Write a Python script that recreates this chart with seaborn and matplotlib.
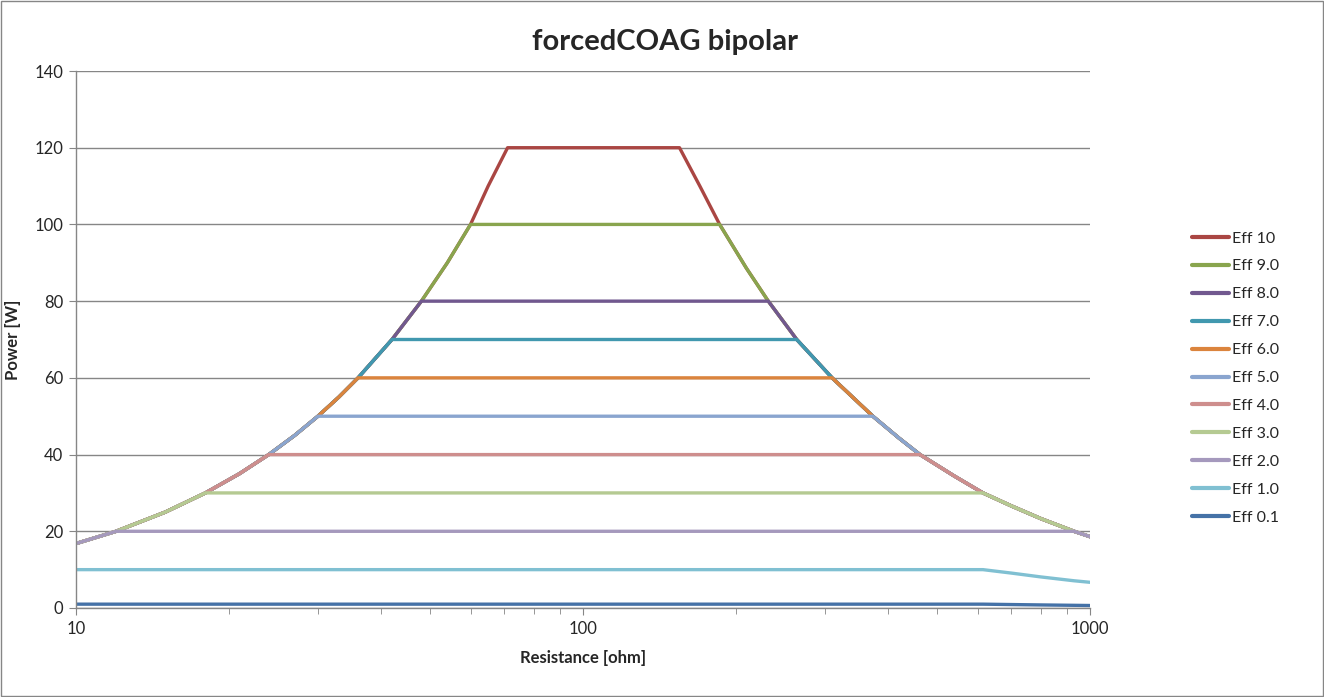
"""forcedCOAG bipolar power curves (Excel-style chart)."""
import matplotlib
matplotlib.use("Agg")
import matplotlib.pyplot as plt
import matplotlib.ticker as mticker
import pandas as pd
import seaborn as sns

# resistance grid [ohm]
resistance = [10, 12, 15, 18, 21, 24, 27, 30, 33, 36, 42, 48, 54, 60, 65, 71,
              155, 170, 186, 210, 232, 264, 310, 373, 420, 462, 540, 615, 700, 800, 930, 1000]

# power [W] per setting
eff_10 = [16.8, 20, 25, 30, 35, 40, 45, 50, 55, 60, 70, 80, 90, 100, 110, 120,
          120, 110, 100, 88.6, 80, 70, 60, 50, 44.3, 40, 34.4, 30, 26.6, 23.3, 20, 18.6]
eff_9 = [16.8, 20, 25, 30, 35, 40, 45, 50, 55, 60, 70, 80, 90, 100, 100, 100,
         100, 100, 100, 88.6, 80, 70, 60, 50, 44.3, 40, 34.4, 30, 26.6, 23.3, 20, 18.6]
eff_8 = [16.8, 20, 25, 30, 35, 40, 45, 50, 55, 60, 70, 80, 80, 80, 80, 80,
         80, 80, 80, 80, 80, 70, 60, 50, 44.3, 40, 34.4, 30, 26.6, 23.3, 20, 18.6]
eff_7 = [16.8, 20, 25, 30, 35, 40, 45, 50, 55, 60, 70, 70, 70, 70, 70, 70,
         70, 70, 70, 70, 70, 70, 60, 50, 44.3, 40, 34.4, 30, 26.6, 23.3, 20, 18.6]
eff_6 = [16.8, 20, 25, 30, 35, 40, 45, 50, 55, 60, 60, 60, 60, 60, 60, 60,
         60, 60, 60, 60, 60, 60, 60, 50, 44.3, 40, 34.4, 30, 26.6, 23.3, 20, 18.6]
eff_5 = [16.8, 20, 25, 30, 35, 40, 45, 50, 50, 50, 50, 50, 50, 50, 50, 50,
         50, 50, 50, 50, 50, 50, 50, 50, 44.3, 40, 34.4, 30, 26.6, 23.3, 20, 18.6]
eff_4 = [16.8, 20, 25, 30, 35, 40, 40, 40, 40, 40, 40, 40, 40, 40, 40, 40,
         40, 40, 40, 40, 40, 40, 40, 40, 40, 40, 34.4, 30, 26.6, 23.3, 20, 18.6]
eff_3 = [16.8, 20, 25, 30, 30, 30, 30, 30, 30, 30, 30, 30, 30, 30, 30, 30,
         30, 30, 30, 30, 30, 30, 30, 30, 30, 30, 30, 30, 26.6, 23.3, 20, 18.6]
eff_2 = [16.8, 20, 20, 20, 20, 20, 20, 20, 20, 20, 20, 20, 20, 20, 20, 20,
         20, 20, 20, 20, 20, 20, 20, 20, 20, 20, 20, 20, 20, 20, 20, 18.6]
eff_1 = [10, 10, 10, 10, 10, 10, 10, 10, 10, 10, 10, 10, 10, 10, 10, 10,
         10, 10, 10, 10, 10, 10, 10, 10, 10, 10, 10, 10, 9.1, 8.1, 7.1, 6.7]
eff_01 = [1.0, 1.0, 1.0, 1.0, 1.0, 1.0, 1.0, 1.0, 1.0, 1.0, 1.0, 1.0, 1.0, 1.0, 1.0, 1.0,
          1.0, 1.0, 1.0, 1.0, 1.0, 1.0, 1.0, 1.0, 1.0, 1.0, 1.0, 1.0, 0.9, 0.8, 0.7, 0.65]

labels = ["Eff 10", "Eff 9.0", "Eff 8.0", "Eff 7.0", "Eff 6.0", "Eff 5.0",
          "Eff 4.0", "Eff 3.0", "Eff 2.0", "Eff 1.0", "Eff 0.1"]
series = [eff_10, eff_9, eff_8, eff_7, eff_6, eff_5, eff_4, eff_3, eff_2, eff_1, eff_01]
colors = ["#AA4643", "#89A54E", "#71588F", "#4198AF", "#DB843D", "#8AA5CF",
          "#CE8E8D", "#B5CA92", "#A599BD", "#80C0D2", "#4572A7"]

rows = []
for lab, vals in zip(labels, series):
    for r, p in zip(resistance, vals):
        rows.append({"Resistance": r, "Power": p, "Setting": lab})
df = pd.DataFrame(rows)

sns.set_style("white")
plt.rcParams["font.family"] = ["Lato", "DejaVu Sans"]

fig = plt.figure(figsize=(13.24, 6.97), dpi=100)
ax = fig.add_axes([76 / 1324, 1 - 608 / 697, (1090 - 76) / 1324, (608 - 71) / 697])

sns.lineplot(data=df, x="Resistance", y="Power", hue="Setting", hue_order=labels,
             palette=colors, linewidth=2.4, ax=ax, sort=False, estimator=None)

ax.set_xscale("log")
ax.set_xlim(10, 1000)
ax.set_ylim(0, 140)
ax.set_yticks(range(0, 141, 20))
ax.xaxis.set_major_formatter(mticker.FuncFormatter(lambda v, _: f"{v:g}"))
ax.xaxis.set_minor_formatter(mticker.NullFormatter())
ax.yaxis.grid(True, color="#868686", linewidth=1.0)
ax.xaxis.grid(False)
ax.set_axisbelow(True)
for s in ("top", "right"):
    ax.spines[s].set_visible(False)
for s in ("left", "bottom"):
    ax.spines[s].set_color("#868686")
    ax.spines[s].set_linewidth(1.0)
ax.tick_params(axis="both", which="major", direction="out", length=5, color="#868686",
               labelsize=12, pad=4, bottom=True, left=True)
ax.tick_params(axis="x", which="minor", direction="out", length=4, color="#868686", bottom=True)

ax.set_xlabel("Resistance [ohm]", fontsize=12, fontweight="bold", labelpad=10)
ax.set_ylabel("Power [W]", fontsize=12, fontweight="bold", labelpad=10)
fig.suptitle("forcedCOAG bipolar", fontsize=21, fontweight="bold", x=665 / 1324, y=1 - 42 / 697,
             va="center")

handles, labs = ax.get_legend_handles_labels()
for h in handles:
    h.set_linewidth(3.0)
ax.legend(handles, labs, loc="center left", bbox_to_anchor=(1178 / 1324, 1 - 378 / 697),
          bbox_transform=fig.transFigure, frameon=False, fontsize=11.5, handlelength=2.3,
          labelspacing=0.86, handletextpad=0.2)

# chart border
fig.patches.append(plt.Rectangle((0.001, 0.001), 0.998, 0.997, transform=fig.transFigure,
                                 fill=False, edgecolor="#868686", linewidth=1.0))

fig.savefig("out.png", dpi=100)
